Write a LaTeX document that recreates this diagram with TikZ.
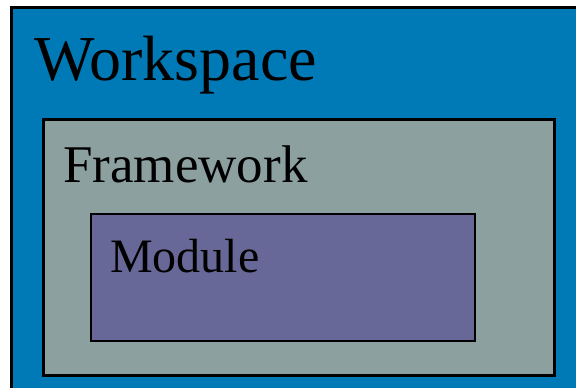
\documentclass[tikz,border=0pt]{standalone}
\usepackage{fontspec}
\setmainfont{Liberation Serif}

\definecolor{wsblue}{RGB}{0,122,182}
\definecolor{fwgrey}{RGB}{140,160,160}
\definecolor{modpurple}{RGB}{104,104,152}

\tikzset{
  label/.style={anchor=base west, inner sep=0pt, text=black}
}

\begin{document}
\begin{tikzpicture}[x=1pt,y=-1pt]

\clip (0,0) rectangle (576,388);
\fill[white] (0,0) rectangle (576,388);

\filldraw[fill=wsblue, line width=3pt] (11,7) rectangle (600,400);
\filldraw[fill=fwgrey, line width=3pt] (43,119) rectangle (554,375);
\filldraw[fill=modpurple, line width=2pt] (91,214) rectangle (475,341);

\node[label, font=\fontsize{64}{64}\selectfont] (workspace) at (34,80) {Workspace};
\node[label, font=\fontsize{53}{53}\selectfont] (framework) at (63,182) {Framework};
\node[label, font=\fontsize{48}{48}\selectfont] (module) at (110,272) {Module};

\end{tikzpicture}
\end{document}
